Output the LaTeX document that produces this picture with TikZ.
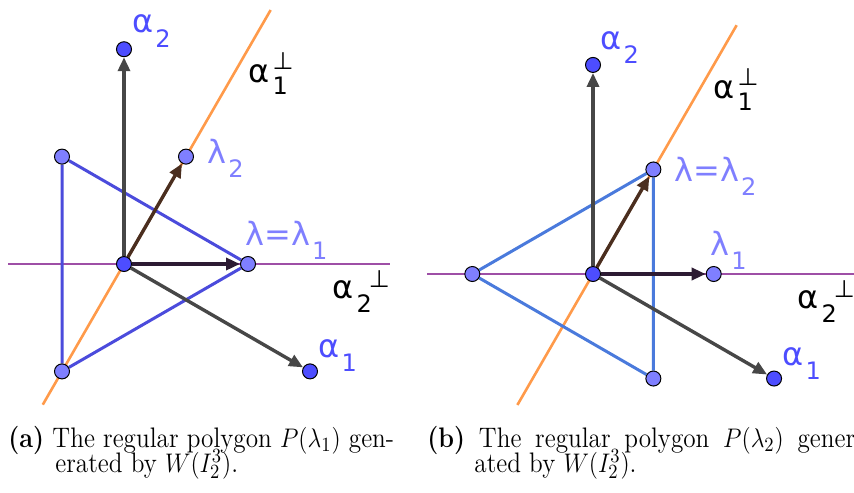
\documentclass[tikz,border=0pt]{standalone}
\usepackage{fontspec}
\newfontfamily\geofont{DejaVu Sans}
\usetikzlibrary{arrows.meta,backgrounds}
\definecolor{ptdark}{HTML}{4D4DFF}
\definecolor{ptlight}{HTML}{7F7FFF}
\definecolor{orangeline}{HTML}{FF9A4A}
\definecolor{purpleline}{HTML}{9E4FA6}
\definecolor{polyblueA}{HTML}{4B4BDC}
\definecolor{polyblueB}{HTML}{4A7ADC}
\definecolor{vecgray}{HTML}{474747}
\definecolor{vecone}{HTML}{2D1B33}
\definecolor{vectwo}{HTML}{4A2E1F}
\newcommand{\subfont}{\fontsize{12}{12}\selectfont}
\newcommand{\lbsub}[2]{#1\kern1pt\raisebox{-7pt}{\subfont #2}}
\newcommand{\lbperpup}[2]{#1\kern1.5pt\rlap{\raisebox{6.5pt}{\subfont ⊥}}\raisebox{-6pt}{\subfont #2}}
\newcommand{\lbperpside}[2]{#1\kern1.5pt\raisebox{-7pt}{\subfont #2}\kern-1.5pt\raisebox{5.5pt}{\subfont ⊥}}
\newcommand{\capline}[1]{\scalebox{1}[1.12]{#1}}
\tikzset{vtx/.style={circle, draw=black, line width=0.5pt, inner sep=0pt, minimum size=7.5pt},
  dk/.style={vtx, fill=ptdark}, lt/.style={vtx, fill=ptlight},
  vec/.style={line width=1.7pt, -{Triangle[length=7pt,width=6pt]}},
  wall/.style={line width=1.3pt},
  poly/.style={line width=1.5pt, line join=round},
  lbl/.style={font=\geofont\fontsize{16}{16}\selectfont, inner sep=0pt, anchor=base west},
  capt/.style={font=\fontsize{12.6}{12.6}\selectfont, inner sep=0pt, anchor=base west}}

\begin{document}
\begin{tikzpicture}[x=0.5pt, y=-0.5pt]
  \useasboundingbox (0,0) rectangle (854,492);
  % (a) polygon of lambda_1
  \begin{scope}[shift={(124,264)}, x=62pt, y=62pt]
    \coordinate (ao1) at (60:-1.31); \coordinate (ao2) at (60:2.365);
    \coordinate (ap1) at (-0.935,0); \coordinate (ap2) at (2.145,0);
    \node[dk] (aO) at (0,0) {};
    \node[lt] (aL1) at (1,0) {};
    \node[lt] (aL2) at (60:1) {};
    \node[dk] (aA1) at (1.5,-0.866) {};
    \node[dk] (aA2) at (0,1.732) {};
    \node[lt] (aV2) at (120:1) {};
    \node[lt] (aV3) at (240:1) {};
    \begin{pgfonlayer}{background}
      \draw[wall, orangeline] (ao1) -- (ao2);
      \draw[wall, purpleline] (ap1) -- (ap2);
      \draw[poly, polyblueA] (aL1) -- (aV2) -- (aV3) -- (aL1);
      \draw[vec, vecgray] (aO) -- (aA2);
      \draw[vec, vecgray] (aO) -- (aA1);
      \draw[vec, vectwo] (aO) -- (aL2);
      \draw[vec, vecone] (aO) -- (aL1);
    \end{pgfonlayer}
  \end{scope}
  \node[lbl, ptdark] (la2) at (132,33) {\lbsub{α}{2}};
  \node[lbl] (lap1) at (248,83) {\lbperpup{α}{1}};
  \node[lbl, ptlight] (lal2) at (207,163) {\lbsub{λ}{2}};
  \node[lbl, ptlight] (lal1) at (245,245) {\lbsub{λ=λ}{1}};
  \node[lbl] (lap2) at (332,298) {\lbperpside{α}{2}};
  \node[lbl, ptdark] (la1) at (318,357) {\lbsub{α}{1}};
  % (b) polygon of lambda_2
  \begin{scope}[shift={(593,274)}, x=60.35pt, y=60.35pt]
    \coordinate (bo1) at (60:-1.253); \coordinate (bo2) at (60:2.38);
    \coordinate (bp1) at (-1.375,0); \coordinate (bp2) at (2.162,0);
    \node[dk] (bO) at (0,0) {};
    \node[lt] (bL1) at (1,0) {};
    \node[lt] (bL2) at (60:1) {};
    \node[dk] (bA1) at (1.5,-0.866) {};
    \node[dk] (bA2) at (0,1.732) {};
    \node[lt] (bV2) at (180:1) {};
    \node[lt] (bV3) at (300:1) {};
    \begin{pgfonlayer}{background}
      \draw[wall, orangeline] (bo1) -- (bo2);
      \draw[wall, purpleline] (bp1) -- (bp2);
      \draw[poly, polyblueB] (bL2) -- (bV2) -- (bV3) -- (bL2);
      \draw[vec, vecgray] (bO) -- (bA2);
      \draw[vec, vecgray] (bO) -- (bA1);
      \draw[vec, vectwo] (bO) -- (bL2);
      \draw[vec, vecone] (bO) -- (bL1);
    \end{pgfonlayer}
  \end{scope}
  \node[lbl, ptdark] (lb2) at (600,50) {\lbsub{α}{2}};
  \node[lbl] (lbp1) at (713,98) {\lbperpup{α}{1}};
  \node[lbl, ptlight] (lbl2) at (674,181) {\lbsub{λ=λ}{2}};
  \node[lbl, ptlight] (lbl1) at (710,255) {\lbsub{λ}{1}};
  \node[lbl] (lbp2) at (797,308) {\lbperpside{α}{2}};
  \node[lbl, ptdark] (lb1) at (782,365) {\lbsub{α}{1}};
  % captions
  \node[capt] (capa1) at (8,447) {\capline{\textbf{(a)} The regular polygon $P(\lambda_1)$ gen-}};
  \node[capt] (capa2) at (55,472) {\capline{erated by $W(I_2^3)$.}};
  \node[capt] (capb1) at (427,447) {\capline{\makebox[218pt][s]{\textbf{(b)} The regular polygon $P(\lambda_2)$ gener-}}};
  \node[capt] (capb2) at (474,472) {\capline{ated by $W(I_2^3)$.}};
\end{tikzpicture}
\end{document}
